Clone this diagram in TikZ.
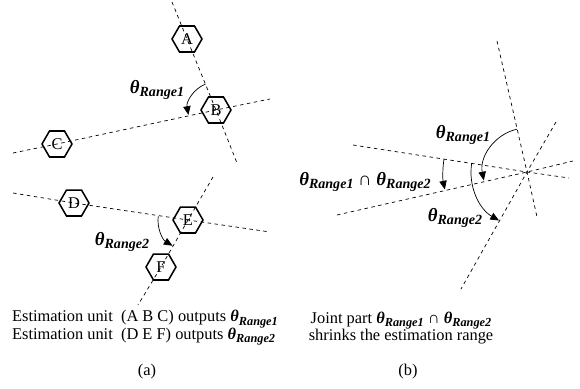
\documentclass[tikz,border=0pt]{standalone}
\usepackage{fontspec}
\setmainfont{Liberation Serif}
\usetikzlibrary{shapes.geometric,arrows.meta}
\def\subsz{10}
\newcommand\thr[1]{{\bfseries\itshape θ\raisebox{-0.45ex}{\fontsize{\subsz}{\subsz}\selectfont Range#1}}}
\tikzset{
  hexa/.style={draw, line width=1.3pt, regular polygon, regular polygon sides=6,
    minimum size=0.9cm, inner sep=0pt, font=\fontsize{14}{14}\selectfont},
  strich/.style={dashed, line width=0.6pt},
  pfeil/.style={-{Triangle[length=2.6mm,width=2.2mm]}, line width=0.6pt},
  lbl/.style={font=\fontsize{16}{16}\selectfont\def\subsz{12}},
  txt/.style={font=\fontsize{14}{15}\selectfont\def\subsz{10.5}}
}
\begin{document}
\begin{tikzpicture}[x=0.03cm, y=0.03cm]
        \useasboundingbox (0,0) rectangle (580,-389);
        % Einheit A B C
        \node[hexa] (A) at (187,-39) {A};
        \node[hexa] (B) at (216,-110) {B};
        \node[hexa] (C) at (57,-144) {C};
        \coordinate (ab1) at (172,-2);
        \coordinate (ab2) at (237,-163);
        \coordinate (cb1) at (13,-153);
        \coordinate (cb2) at (270,-99);
        \draw[strich] (ab1) -- (A.center) -- (B.center) -- (ab2);
        \draw[strich] (cb1) -- (C.center) -- (B.center) -- (cb2);
        \draw[pfeil] ([shift={(112:28)}]B.center) arc[start angle=112, end angle=190, radius=28];
        \node[lbl] (r1a) at (157,-90) {\thr{1}};
        % Einheit D E F
        \node[hexa] (D) at (74,-203) {D};
        \node[hexa] (E) at (188,-220) {E};
        \node[hexa] (F) at (161,-267) {F};
        \coordinate (de1) at (13,-193);
        \coordinate (de2) at (270,-232);
        \coordinate (ef1) at (213,-177);
        \coordinate (ef2) at (138,-305);
        \draw[strich] (de1) -- (D.center) -- (E.center) -- (de2);
        \draw[strich] (ef1) -- (E.center) -- (F.center) -- (ef2);
        \draw[pfeil] ([shift={(173:30)}]E.center) arc[start angle=173, end angle=239, radius=30];
        \node[lbl] (r2a) at (122,-242) {\thr{2}};
        % Schnittmenge
        \coordinate (O) at (527,-172);
        \coordinate (l1a) at (497,-41);
        \coordinate (l1b) at (537,-217);
        \coordinate (l2a) at (556,-122);
        \coordinate (l2b) at (461,-289);
        \coordinate (l3a) at (337,-215);
        \coordinate (l3b) at (573,-161);
        \coordinate (l4a) at (353,-145);
        \coordinate (l4b) at (569,-178);
        \draw[strich] (l1a) -- (O) -- (l1b);
        \draw[strich] (l2a) -- (O) -- (l2b);
        \draw[strich] (l3a) -- (O) -- (l3b);
        \draw[strich] (l4a) -- (O) -- (l4b);
        \draw[pfeil] ([shift={(103:44)}]O) arc[start angle=103, end angle=191, radius=44];
        \draw[pfeil] ([shift={(171:56)}]O) arc[start angle=171, end angle=240, radius=56];
        \draw[pfeil] ([shift={(171:84)}]O) arc[start angle=171, end angle=192, radius=84];
        \node[lbl] (r1b) at (463,-135) {\thr{1}};
        \node[lbl] (r12) at (365,-182) {\thr{1} ∩ \thr{2}};
        \node[lbl] (r2b) at (455,-218) {\thr{2}};
        % Beschriftung
        \node[txt, align=left] (ta) at (145,-328) {Estimation unit~ (A B C) outputs \thr{1}\\
          Estimation unit~ (D E F) outputs \thr{2}};
        \node[txt, align=center] (tb) at (401,-328) {Joint part \thr{1} ∩ \thr{2}\\
          shrinks the estimation range};
        \node[txt] (ca) at (147,-372) {(a)};
        \node[txt] (cb) at (408,-372) {(b)};
\end{tikzpicture}
\end{document}
